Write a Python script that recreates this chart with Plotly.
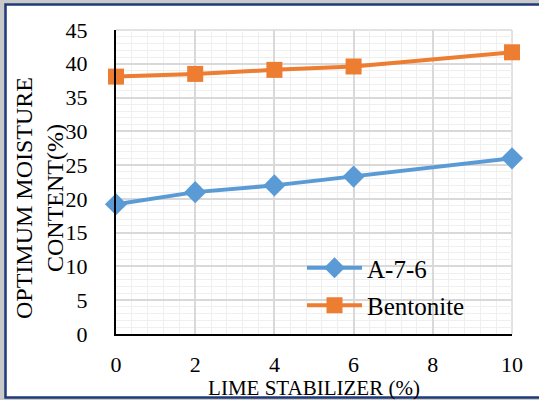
import plotly.graph_objects as go

# Lime stabilizer content (%) and optimum moisture content (%)
lime_pct = [0, 2, 4, 6, 10]
a76_omc = [19.2, 21.0, 22.0, 23.3, 26.0]
bentonite_omc = [38.1, 38.5, 39.1, 39.6, 41.7]

x_ticks = [0, 2, 4, 6, 8, 10]
y_ticks = [0, 5, 10, 15, 20, 25, 30, 35, 40, 45]

W, H = 539, 400
L, R, T, B = 116, 27, 30, 66
pw, ph = W - L - R, H - T - B


def px(xp):
    return (xp - L) / pw


def py(yp):
    return (H - B - yp) / ph


serif = "Liberation Serif, Times New Roman, serif"

fig = go.Figure()
fig.add_trace(go.Scatter(
    x=lime_pct, y=a76_omc, name="A-7-6", mode="lines+markers",
    line=dict(color="#5b9bd5", width=4),
    marker=dict(symbol="diamond", size=17, color="#5b9bd5"),
    legendgroup="a", cliponaxis=False,
))
fig.add_trace(go.Scatter(
    x=lime_pct, y=bentonite_omc, name="Bentonite", mode="lines+markers",
    line=dict(color="#ed7d31", width=4),
    marker=dict(symbol="square", size=16, color="#ed7d31"),
    legendgroup="b", cliponaxis=False,
))

# outer frame: soft grey shadow and navy border
fig.add_shape(type="rect", xref="paper", yref="paper",
              x0=px(0), x1=px(W), y0=py(H), y1=py(0),
              fillcolor="#c9c9c9", line=dict(width=0), layer="below")
fig.add_shape(type="rect", xref="paper", yref="paper",
              x0=px(5.5), x1=px(W + 10), y0=py(397.5), y1=py(4.5),
              fillcolor="white", line=dict(color="#1f3a78", width=2.5), layer="below")

# y-axis title, two lines, rotated
fig.add_annotation(
    text="OPTIMUM MOISTURE<br>CONTENT(%)", textangle=-90,
    xref="paper", yref="paper", x=px(40), y=py(198),
    xanchor="center", yanchor="middle", showarrow=False,
    font=dict(size=24, family=serif, color="black"),
)

fig.update_layout(
    width=W, height=H,
    margin=dict(l=L, r=R, t=T, b=B),
    paper_bgcolor="white", plot_bgcolor="white",
    font=dict(family=serif, color="black", size=21),
    showlegend=True,
    legend=dict(x=px(302), y=py(245), xanchor="left", yanchor="top",
                bgcolor="rgba(0,0,0,0)", font=dict(size=25, family=serif),
                itemwidth=55, tracegroupgap=2, traceorder="grouped"),
    xaxis=dict(
        range=[0, 10], tickvals=x_ticks, ticktext=[str(v) for v in x_ticks],
        showline=True, linecolor="black", linewidth=2,
        showgrid=True, gridcolor="#d9d9d9", gridwidth=1.5,
        minor=dict(dtick=0.4, showgrid=True, gridcolor="#efefef", gridwidth=1),
        zeroline=False, ticks="", ticklabelstandoff=10,
        tickfont=dict(size=22), automargin=False,
        title=dict(text="LIME STABILIZER (%)", font=dict(size=21), standoff=0),
    ),
    yaxis=dict(
        range=[0, 45], tickvals=y_ticks, ticktext=[str(v) for v in y_ticks],
        showline=True, linecolor="black", linewidth=2,
        showgrid=True, gridcolor="#d9d9d9", gridwidth=1.5,
        minor=dict(dtick=1, showgrid=True, gridcolor="#efefef", gridwidth=1),
        zeroline=False, ticks="", ticklabelstandoff=22,
        tickfont=dict(size=22), automargin=False,
    ),
)

# light border on top and right of the plotting area
fig.add_shape(type="line", xref="paper", yref="paper", x0=0, x1=1, y0=1, y1=1,
              line=dict(color="#d9d9d9", width=1.5), layer="below")
fig.add_shape(type="line", xref="paper", yref="paper", x0=1, x1=1, y0=0, y1=1,
              line=dict(color="#d9d9d9", width=1.5), layer="below")

fig.write_html("out.html")
